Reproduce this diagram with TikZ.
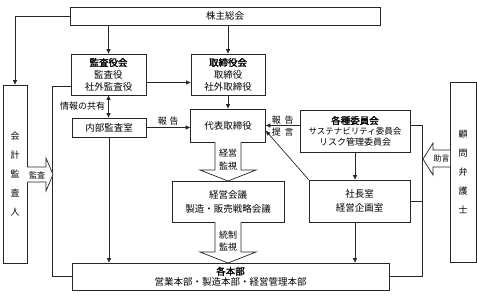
\documentclass[tikz,border=0pt]{standalone}
\usepackage{fontspec}
\setmainfont{Noto Sans CJK JP}[AutoFakeBold=2]
\usetikzlibrary{arrows.meta,calc}

\begin{document}
\begin{tikzpicture}[
  x=1pt,y=-1pt,
  font=\fontsize{9.5}{12}\selectfont,
  box/.style={draw=black!85,line width=0.8pt,align=center,inner sep=0pt,font=\fontsize{9.5}{12}\selectfont},
  vbox/.style={draw=black!85,line width=0.8pt,align=center,inner sep=0pt,font=\fontsize{9}{19}\selectfont},
  blk/.style={draw=black!85,line width=0.7pt,fill=white,line join=miter},
  lbl/.style={font=\fontsize{9}{11}\selectfont,inner sep=1pt,align=center},
  arr/.style={-{Triangle[length=4.5pt,width=4pt]},draw=black!85,line width=0.7pt},
  wire/.style={draw=black!85,line width=0.7pt}
]
\useasboundingbox (0,0) rectangle (477,295);

% boxes
\node[box,minimum width=310,minimum height=18] (kabu) at (225,16) {株主総会};
\node[box,minimum width=75,minimum height=41] (kansa) at (108.5,74.5) {\textbf{監査役会}\\監査役\\社外監査役};
\node[box,minimum width=74,minimum height=41] (tori) at (228,74.5) {\textbf{取締役会}\\取締役\\社外取締役};
\node[box,minimum width=74,minimum height=19] (naibu) at (109,127.5) {内部監査室};
\node[box,minimum width=75,minimum height=33] (daihyo) at (228,125.5) {代表取締役};
\node[box,minimum width=110,minimum height=42,font=\fontsize{9.5}{10.5}\selectfont] (iinkai) at (355,131)
  {\textbf{各種委員会}\\{\fontsize{8.5}{10.5}\selectfont サステナビリティ委員会}\\{\fontsize{9}{10.5}\selectfont リスク管理委員会}};
\node[box,minimum width=112,minimum height=41,font=\fontsize{9.5}{14}\selectfont] (kaigi) at (228,201.5) {経営会議\\製造・販売戦略会議};
\node[box,minimum width=101,minimum height=42,font=\fontsize{9.5}{14}\selectfont] (shacho) at (359.5,201) {社長室\\経営企画室};
\node[box,minimum width=317,minimum height=27,font=\fontsize{9.5}{10.5}\selectfont] (honbu) at (230.5,276.5)
  {\textbf{各本部}\\営業本部・製造本部・経営管理本部};
\node[vbox,minimum width=24,minimum height=178] (kaikei) at (15,174) {会\\計\\監\\査\\人};
\node[vbox,minimum width=26,minimum height=180] (komon) at (463,172) {顧\\問\\弁\\護\\士};

% connectors
\draw[arr] (kabu.west) -| (kaikei.north);
\draw[arr] (kansa.north |- kabu.south) -- (kansa.north);
\draw[arr] (tori.north |- kabu.south) -- (tori.north);
\coordinate (kt) at ($(kansa.east)+(0,8)$);
\draw[arr] (kt) -- (kt -| tori.west);
\draw[arr] (tori.south) -- (daihyo.north);
\draw[arr,{Triangle[length=4.5pt,width=4pt]}-{Triangle[length=4.5pt,width=4pt]}] (kansa.south) -- (kansa.south |- naibu.north)
  node[lbl,midway,left=2pt] (kyoyu) {情報の共有};
\draw[arr] (naibu.east) -- (naibu.east -| daihyo.west) node[lbl,midway,above=1pt] (hokoku1) {報\hspace{3pt}告};
\draw[arr] (naibu.south) -- (naibu.south |- honbu.north);
\coordinate (kl) at ($(kansa.west)+(0,12)$);
\draw[wire] (kl) -- ++(-18,0) |- (honbu.west);
\draw[arr] (iinkai.west |- daihyo.east) -- (daihyo.east)
  node[lbl,midway,above] (hokoku2) {報\hspace{4pt}告}
  node[lbl,midway,below=1pt] (teigen) {提\hspace{4pt}言};
\draw[arr] (shacho.north west) -- (daihyo.-8);
\draw[arr] (iinkai.south) -- (iinkai.south |- shacho.north);
\draw[arr] (iinkai.south |- shacho.south) -- (iinkai.south |- honbu.north);
\draw[wire] (iinkai.east |- daihyo.east) -- ++(12,0) coordinate (rt) |- (honbu.east);
\draw[wire] (shacho.east) -- (shacho.east -| rt);

% block arrows
\draw[blk] (27,167) -- (46,167) -- (46,158) -- (53,174.5) -- (46,191) -- (46,182) -- (27,182);
\node[lbl,font=\fontsize{8}{10}\selectfont] (kansaL) at (37,175) {監査};
\draw[blk] (450,150) -- (433,150) -- (433,143) -- (423,159) -- (433,175) -- (433,167) -- (450,167);
\node[lbl,font=\fontsize{8}{10}\selectfont] (jogen) at (441.5,158.5) {助言};
\draw[blk] (215,142) -- (215,170) -- (200,170) -- (228,181) -- (256,170) -- (241,170) -- (241,142);
\node[lbl,font=\fontsize{9}{13}\selectfont] (keieikanshi) at (228,159.5) {経営\\監視};
\draw[blk] (215,222) -- (215,252) -- (200,252) -- (228,263) -- (256,252) -- (241,252) -- (241,222);
\node[lbl,font=\fontsize{9}{12}\selectfont] (toseikanshi) at (228,241) {統制\\監視};

\end{tikzpicture}
\end{document}
